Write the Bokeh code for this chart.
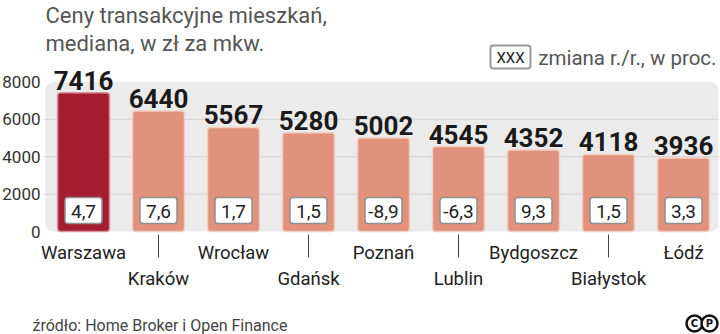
from bokeh.plotting import figure
from bokeh.models import Range1d, BoxAnnotation
from bokeh.core.properties import value
from bokeh.embed import file_html
from bokeh.resources import INLINE

cities = ["Warszawa", "Kraków", "Wrocław", "Gdańsk", "Poznań", "Lublin",
          "Bydgoszcz", "Białystok", "Łódź"]
prices = [7416, 6440, 5567, 5280, 5002, 4545, 4352, 4118, 3936]
changes = ["4,7", "7,6", "1,7", "1,5", "-8,9", "-6,3", "9,3", "1,5", "3,3"]
yticks = [0, 2000, 4000, 6000, 8000]
grid_ticks = [2000, 4000, 6000]

title_lines = ["Ceny transakcyjne mieszkań,", "mediana, w zł za mkw."]
legend_text = "zmiana r./r., w proc."
source_text = "źródło: Home Broker i Open Finance"

idx = list(range(len(cities)))
colors = ["#A51D31"] + ["#E0927D"] * (len(cities) - 1)
borders = ["#D9949C"] + ["#F3CDBF"] * (len(cities) - 1)

# layout helpers: pixel position -> data coordinate
PX_PER_X = 75.0
PX_PER_Y = 18.7 / 1000.0
X0 = 83.0
Y_BASE = 231.0


def X(px):
    return (px - X0) / PX_PER_X


def Y(py):
    return (Y_BASE - py) / PX_PER_Y


SANS = "Roboto"
BOLD = "Liberation Sans Narrow, Roboto"

p = figure(width=720, height=334, output_backend="svg", toolbar_location=None,
           x_range=Range1d(X(0), X(720)), y_range=Range1d(Y(334), Y(0)),
           x_axis_location=None, y_axis_location=None, min_border=0,
           outline_line_color=None, background_fill_color="white",
           border_fill_color="white")
p.xgrid.visible = False
p.ygrid.visible = False

bg = BoxAnnotation(bottom=0, top=yticks[-1], left=X(45), right=X(718),
                   fill_color="#EBEBEB", fill_alpha=1, line_color=None,
                   border_radius=8, level="image")
p.add_layout(bg)

# grid lines
p.segment(x0=[X(43)] * len(grid_ticks), y0=grid_ticks,
          x1=[X(718)] * len(grid_ticks), y1=grid_ticks,
          line_color="#D3D3D3", line_width=1)

# y tick labels
p.text(x=[X(40)] * len(yticks), y=yticks, text=[str(t) for t in yticks],
       text_align="right", text_baseline="middle", text_font=value(SANS),
       text_font_size="17px", text_color="#333333")

# bars
p.vbar(x=idx, top=prices, bottom=0, width=52 / PX_PER_X, fill_color=colors,
       line_color=borders, line_width=1.5, border_radius=3)

# value labels
p.text(x=idx, y=prices, text=[str(v) for v in prices], text_align="center",
       text_baseline="bottom", y_offset=-3, text_font=value(BOLD),
       text_font_style="bold", text_font_size="26px", text_color="#1A1A1A")

# change boxes
p.vbar(x=idx, bottom=Y(223), top=Y(197), width=37 / PX_PER_X, fill_color="white",
       line_color="#8F8F8F", line_width=1.5, border_radius=3)
p.text(x=idx, y=Y(210.5), text=changes, text_align="center", text_baseline="middle",
       text_font=value(SANS), text_font_size="19px", text_color="#222222")

# category labels, alternating rows
p.text(x=idx[0::2], y=Y(252), text=cities[0::2], text_align="center",
       text_baseline="middle", text_font=value(SANS), text_font_size="18.5px",
       text_color="#222222")
p.text(x=idx[1::2], y=Y(278), text=cities[1::2], text_align="center",
       text_baseline="middle", text_font=value(SANS), text_font_size="18.5px",
       text_color="#222222")
p.segment(x0=idx[1::2], y0=Y(234), x1=idx[1::2], y1=Y(257), line_color="#444444",
          line_width=1)

# title
p.text(x=[X(45), X(45)], y=[Y(15), Y(43)], text=title_lines, text_align="left",
       text_baseline="middle", text_font=value(SANS), text_font_size="22px",
       text_color="#555555")

# legend
p.quad(left=X(490), right=X(530), bottom=Y(68), top=Y(45), fill_color="white",
       line_color="#999999", line_width=2, border_radius=3)
p.text(x=[X(510)], y=[Y(57)], text=["XXX"], text_align="center",
       text_baseline="middle", text_font=value(SANS), text_font_size="15px",
       text_color="#222222")
p.text(x=[X(716)], y=[Y(57)], text=[legend_text], text_align="right",
       text_baseline="middle", text_font=value(SANS), text_font_size="20.5px",
       text_color="#555555")

# source
p.text(x=[X(32)], y=[Y(325)], text=[source_text], text_align="left",
       text_baseline="middle", text_font=value(SANS), text_font_size="16px",
       text_color="#444444")

# (C)(P) logo
p.scatter(x=[X(694), X(709)], y=[Y(323), Y(323)], size=16, marker="circle",
          fill_color="white", line_color="#111111", line_width=2.5)
p.text(x=[X(694), X(709)], y=[Y(323), Y(323)], text=["C", "P"], text_align="center",
       text_baseline="middle", text_font=value("DejaVu Sans"), text_font_style="bold",
       text_font_size="10px", text_color="#111111")

open("out.html", "w").write(file_html(p, INLINE))
